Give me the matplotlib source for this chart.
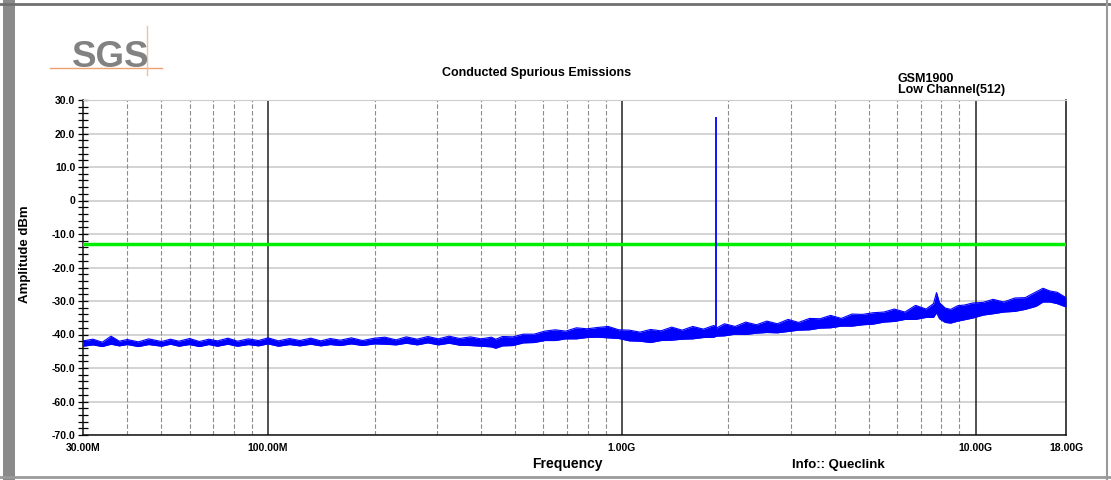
import matplotlib
matplotlib.use("Agg")
import matplotlib.pyplot as plt
from matplotlib.lines import Line2D
from matplotlib.patches import Rectangle
from matplotlib.ticker import FixedLocator, MultipleLocator, NullFormatter

# trace envelope (MHz, dBm)
freq_mhz = [30, 32, 34, 36, 38, 40, 43, 46, 50, 53, 56, 60, 64, 68, 72, 77, 82, 88, 94,
            100, 107, 115, 123, 132, 141, 150, 160, 172, 185, 200, 214, 230, 246, 264,
            283, 303, 325, 348, 373, 400, 428, 440, 460, 492, 527, 565, 605, 648, 694,
            744, 797, 854, 915, 980, 1050, 1125, 1205, 1290, 1383, 1480, 1586, 1700,
            1820, 1850, 1950, 2090, 2240, 2400, 2570, 2750, 2950, 3160, 3390, 3630,
            3890, 4170, 4470, 4790, 5130, 5500, 5890, 6310, 6760, 7240, 7600, 7750,
            7900, 8200, 8500, 8900, 9300, 9800, 10500, 11200, 12000, 12900, 13800,
            14800, 15500, 16200, 17000, 18000]
level_hi = [-41.9, -41.4, -42.3, -40.5, -42.0, -41.5, -42.2, -41.3, -42.1, -41.4, -42.0,
            -41.2, -42.1, -41.4, -41.9, -41.1, -42.0, -41.3, -41.8, -41.0, -41.9, -41.2,
            -41.8, -41.1, -41.9, -41.2, -41.7, -41.0, -41.8, -41.1, -40.8, -41.6, -40.7,
            -41.4, -40.6, -41.3, -40.5, -41.2, -40.7, -41.3, -40.8, -41.4, -40.6, -40.7,
            -39.9, -39.9, -39.0, -38.6, -39.0, -38.0, -38.3, -37.9, -37.6, -38.6, -38.7,
            -39.3, -38.5, -38.9, -37.8, -38.7, -37.6, -38.4, -37.3, -38.1, -36.8, -37.6,
            -36.3, -37.1, -36.0, -36.8, -35.5, -36.4, -35.2, -35.3, -34.3, -35.2, -33.9,
            -34.0, -33.5, -33.3, -32.4, -33.3, -31.3, -32.4, -30.8, -27.5, -30.5, -32.1,
            -32.5, -31.4, -31.2, -30.6, -30.4, -29.5, -30.3, -29.1, -29.0, -27.3, -26.2,
            -27.0, -27.4, -29.0]
level_lo = [-43.5, -43.1, -43.6, -42.9, -43.4, -43.0, -43.6, -43.0, -43.5, -42.9, -43.5,
            -43.0, -43.6, -43.0, -43.5, -42.9, -43.5, -43.0, -43.4, -42.8, -43.5, -43.0,
            -43.4, -42.9, -43.4, -43.0, -43.3, -42.8, -43.3, -42.8, -42.9, -43.1, -42.6,
            -43.1, -42.5, -43.1, -42.6, -43.2, -43.3, -43.5, -43.7, -44.1, -43.4, -43.3,
            -42.5, -42.4, -41.8, -41.8, -41.3, -41.3, -40.9, -40.8, -41.0, -41.2, -41.9,
            -42.0, -42.4, -41.8, -41.7, -41.4, -41.3, -40.9, -40.8, -40.5, -40.4, -39.9,
            -40.0, -39.6, -39.4, -39.5, -39.1, -38.7, -38.6, -38.1, -38.0, -37.5, -37.5,
            -37.1, -36.9, -36.3, -36.1, -35.5, -35.5, -34.9, -34.9, -33.5, -35.3, -36.4,
            -36.6, -36.0, -35.6, -35.1, -34.2, -33.8, -33.3, -33.1, -32.5, -31.6, -30.3,
            -30.3, -30.8, -31.8]

carrier_mhz = 1850.2
carrier_dbm = 25.0
limit_dbm = -13.0

xtick_mhz = [30, 100, 1000, 10000, 18000]
xtick_labels = ["30.00M", "100.00M", "1.00G", "10.00G", "18.00G"]
decades = [100, 1000, 10000]
minor_mhz = [40, 50, 60, 70, 80, 90, 200, 300, 400, 500, 600, 700, 800, 900,
             2000, 3000, 4000, 5000, 6000, 7000, 8000, 9000]
ytick_vals = [30, 20, 10, 0, -10, -20, -30, -40, -50, -60, -70]
ytick_labels = ["30.0", "20.0", "10.0", "0", "-10.0", "-20.0", "-30.0", "-40.0",
                "-50.0", "-60.0", "-70.0"]

W, H = 1111, 480
fig = plt.figure(figsize=(W / 100, H / 100), dpi=100)
fig.patch.set_facecolor("white")
bold = dict(family="Liberation Sans", fontweight="bold")

# window frame
fig.add_artist(Rectangle((3 / W, 0), 12 / W, 1, transform=fig.transFigure,
                         facecolor="#8a8a8a", edgecolor="none"))
fig.add_artist(Line2D([0, 1], [1 - 4 / H, 1 - 4 / H], transform=fig.transFigure,
                      color="#707070", lw=2))
fig.add_artist(Line2D([0, 1], [3 / H, 3 / H], transform=fig.transFigure,
                      color="#9a9a9a", lw=2))
fig.add_artist(Line2D([1107 / W, 1107 / W], [0, 1], transform=fig.transFigure,
                      color="#9a9a9a", lw=1.5))

# logo
fig.text(72 / W, 1 - 67 / H, "SGS", color="#828282", fontsize=26.5,
         family="Liberation Sans", fontweight="bold", va="baseline", ha="left")
fig.add_artist(Line2D([50 / W, 162 / W], [1 - 68 / H, 1 - 68 / H],
                      transform=fig.transFigure, color="#f0a070", lw=1))
fig.add_artist(Line2D([147 / W, 147 / W], [1 - 26 / H, 1 - 75 / H],
                      transform=fig.transFigure, color="#f0c0a0", lw=1))

ax = fig.add_axes([83 / W, 1 - 435 / H, (1066 - 83) / W, (435 - 100) / H])
ax.set_xscale("log")
ax.set_xlim(30, 18000)
ax.set_ylim(-70, 30)

for y in ytick_vals:
    ax.axhline(y, color="#cccccc", lw=1.2, zorder=1)
for f in minor_mhz:
    ax.axvline(f, color="#8c8c8c", lw=0.8, ls=(0, (4, 2)), zorder=1)
for f in decades:
    ax.axvline(f, color="#222222", lw=1.1, zorder=1)

ax.axhline(limit_dbm, color="#00ee00", lw=2.5, zorder=3)
ax.fill_between(freq_mhz, level_lo, level_hi, color="#0000ff", lw=0, zorder=4)
ax.plot(freq_mhz, level_hi, color="#0000ff", lw=0.8, zorder=4)
ax.plot(freq_mhz, level_lo, color="#0000ff", lw=0.8, zorder=4)
ax.vlines(carrier_mhz, -38.5, carrier_dbm, color="#0000ff", lw=1.3, zorder=4)

ax.xaxis.set_major_locator(FixedLocator(xtick_mhz))
ax.xaxis.set_minor_locator(FixedLocator([]))
ax.xaxis.set_minor_formatter(NullFormatter())
ax.set_xticklabels(xtick_labels, fontsize=7.5, **bold)
ax.tick_params(axis="x", length=0, pad=6)

ax.yaxis.set_major_locator(FixedLocator(ytick_vals))
ax.set_yticklabels(ytick_labels, fontsize=7.5, **bold)
ax.yaxis.set_minor_locator(MultipleLocator(2))
ax.tick_params(axis="y", which="both", direction="inout", length=7, width=0.9, pad=2)

for side in ["left", "bottom", "right"]:
    ax.spines[side].set_color("#111111")
    ax.spines[side].set_linewidth(1.1)
ax.spines["top"].set_color("#cccccc")

fig.text(537 / W, 1 - 73 / H, "Conducted Spurious Emissions", ha="center", va="center",
         fontsize=9, **bold)
fig.text(898 / W, 1 - 84.5 / H, "GSM1900\nLow Channel(512)", ha="left", va="center",
         fontsize=9, linespacing=0.8, **bold)
fig.text(25 / W, 1 - 254 / H, "Amplitude dBm", rotation=90, ha="center", va="center",
         fontsize=9.5, **bold)
fig.text(567 / W, 1 - 464 / H, "Frequency", ha="center", va="center", fontsize=10, **bold)
fig.text(838 / W, 1 - 465 / H, "Info:: Queclink", ha="center", va="center", fontsize=9.5,
         **bold)

fig.savefig("out.png", dpi=100)
